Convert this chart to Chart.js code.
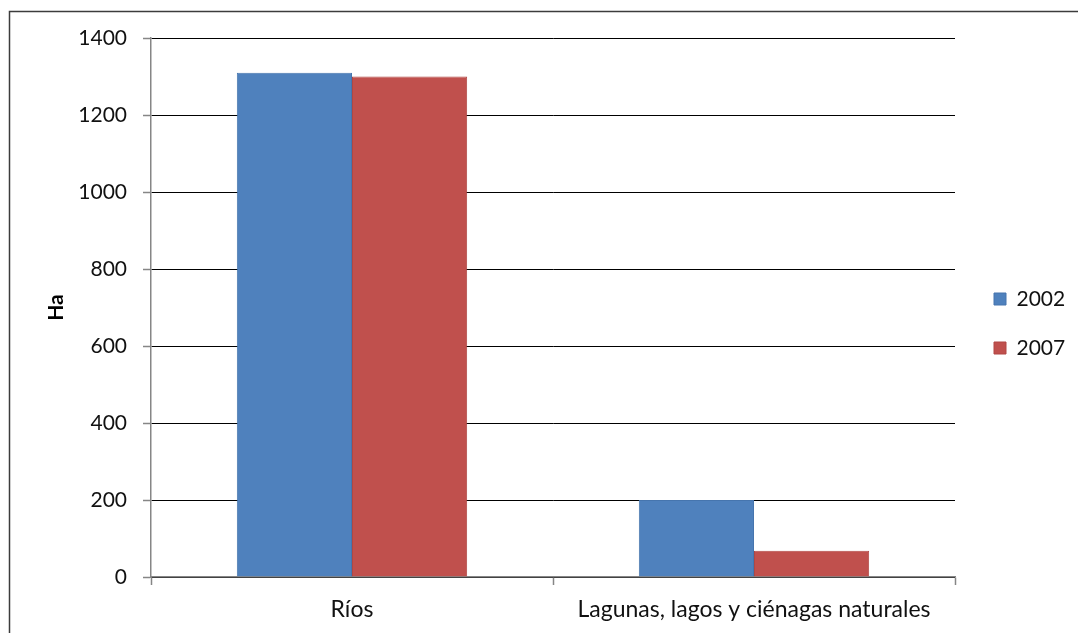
<!DOCTYPE html>
<html>
<head>
<meta charset="utf-8">
<script src="https://cdn.jsdelivr.net/npm/chart.js@4"></script>
<style>
  html, body { margin: 0; padding: 0; background: #fff; }
  #wrap { position: relative; width: 1078px; height: 633px; }
  canvas { display: block; }
</style>
</head>
<body>
<div id="wrap"><canvas id="chart" width="1078" height="633"></canvas></div>
<script>
// data
const categories = ["Ríos", "Lagunas, lagos y ciénagas naturales"];
const seriesLabels = ["2002", "2007"];
const values2002 = [1310, 200];
const values2007 = [1300, 68];
const yTicks = [0, 200, 400, 600, 800, 1000, 1200, 1400];

const fontFamily = "Lato, 'Open Sans', sans-serif";

// frame around the figure, as in the original (cut at right and bottom)
const framePlugin = {
    id: "frame",
    beforeDraw(chart) {
        const ctx = chart.ctx;
        ctx.save();
        ctx.fillStyle = "#fff";
        ctx.fillRect(0, 0, chart.width, chart.height);
        ctx.strokeStyle = "#3c3c3c";
        ctx.lineWidth = 1.5;
        ctx.beginPath();
        ctx.moveTo(9.5, chart.height);
        ctx.lineTo(9.5, 11.5);
        ctx.lineTo(chart.width, 11.5);
        ctx.stroke();
        ctx.restore();
    }
};

// fix legend width so plot area ends where it does in the original,
// then nudge the legend to its place
const legendPlacePlugin = {
    id: "legendPlace",
    beforeInit(chart) {
        const origFit = chart.legend.fit;
        chart.legend.fit = function () {
            origFit.bind(chart.legend)();
            this.width = 123;
        };
    },
    afterLayout(chart) {
        const lg = chart.legend;
        lg.left += 11;
        lg.right += 11;
        lg.top -= 12;
        lg.bottom -= 12;
    }
};

const ctx = document.getElementById("chart").getContext("2d");
new Chart(ctx, {
    type: "bar",
    data: {
        labels: categories,
        datasets: [
            {
                label: seriesLabels[0],
                data: values2002,
                backgroundColor: "#4F81BD",
                borderColor: "#4675AE",
                borderWidth: 1
            },
            {
                label: seriesLabels[1],
                data: values2007,
                backgroundColor: "#C0504D",
                borderColor: "#B14744",
                borderWidth: 1
            }
        ]
    },
    options: {
        responsive: false,
        animation: false,
        layout: { padding: { top: 38, left: 0, right: 0, bottom: 0 } },
        datasets: { bar: { categoryPercentage: 0.573, barPercentage: 1.0 } },
        plugins: {
            legend: {
                position: "right",
                labels: {
                    boxWidth: 12,
                    boxHeight: 12,
                    padding: 28,
                    color: "#111",
                    font: { family: fontFamily, size: 21 }
                }
            },
            tooltip: { enabled: false }
        },
        scales: {
            x: {
                offset: true,
                afterFit(scale) { scale.height = 56; },
                grid: {
                    offset: true,
                    drawOnChartArea: false,
                    drawTicks: true,
                    tickLength: 8,
                    tickColor: "#868686",
                    tickWidth: 1.5
                },
                border: { color: "#868686", width: 1.5 },
                ticks: {
                    color: "#111",
                    padding: 11,
                    maxRotation: 0,
                    font: { family: fontFamily, size: 23 }
                }
            },
            y: {
                min: 0,
                max: 1400,
                afterFit(scale) { scale.width = 151; },
                afterBuildTicks(scale) {
                    scale.ticks = yTicks.map(v => ({ value: v }));
                },
                grid: {
                    color: "#000",
                    lineWidth: 1,
                    drawTicks: true,
                    tickLength: 8,
                    tickColor: "#868686",
                    tickWidth: 1.5
                },
                border: { color: "#868686", width: 1.5 },
                ticks: {
                    color: "#111",
                    padding: 16,
                    font: { family: fontFamily, size: 21 },
                    callback: v => String(v)
                },
                title: {
                    display: true,
                    text: "Ha",
                    color: "#000",
                    padding: { top: 44, bottom: 0 },
                    font: { family: fontFamily, size: 21, weight: "bold" }
                }
            }
        }
    },
    plugins: [framePlugin, legendPlacePlugin]
});
</script>
</body>
</html>
